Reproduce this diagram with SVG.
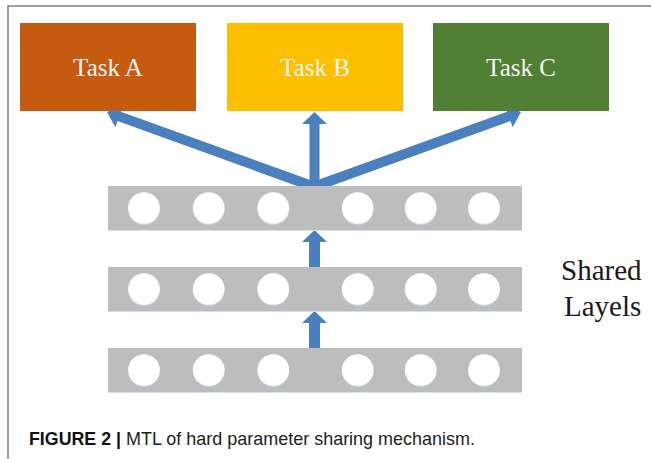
<svg xmlns="http://www.w3.org/2000/svg" width="651" height="459" viewBox="0 0 651 459">
  <defs>
    <style>
      .frame { fill: none; stroke: #808080; stroke-width: 1.5; }
      .task-label { font-family: "Liberation Serif", "Times New Roman", serif; font-size: 25px; fill: #f5f5f5; text-anchor: middle; }
      .bar { fill: #bdbdbd; }
      .bar-edge { stroke: #d3e0ee; stroke-width: 1; }
      .unit { fill: #ffffff; }
      .unit-shade { fill: #c6d6e8; }
      .arrow { fill: #4a80bd; }
      .side-label { font-family: "Liberation Serif", "Times New Roman", serif; font-size: 29px; fill: #1a1a1a; }
      .caption { font-family: "Liberation Sans", Arial, Helvetica, sans-serif; font-size: 19px; fill: #222222; }
      .caption-bold { font-weight: bold; fill: #111111; }
    </style>
    <!-- one neuron: faint bluish shade below a white disc -->
    <g id="unit">
      <circle class="unit-shade" cx="0" cy="1" r="16"/>
      <circle class="unit" cx="0" cy="0" r="15.8"/>
    </g>
    <!-- one shared layer: grey band with six units -->
    <g id="layer">
      <rect class="bar" x="108" y="0" width="414" height="44"/>
      <line class="bar-edge" x1="108" y1="44.5" x2="522" y2="44.5"/>
      <use href="#unit" x="144" y="22"/>
      <use href="#unit" x="208.7" y="22"/>
      <use href="#unit" x="273.3" y="22"/>
      <use href="#unit" x="357.7" y="22"/>
      <use href="#unit" x="420.7" y="22"/>
      <use href="#unit" x="484" y="22"/>
    </g>
    <!-- short upward block arrow between layers -->
    <polygon id="up-arrow" points="309,12 302,12 314.5,0 327,12 320,12 320,38 309,38"/>
  </defs>

  <!-- figure frame -->
  <path class="frame" d="M8,459 L8,6 L651,6"/>

  <!-- connectors -->
  <g id="connectors">
    <!-- shared top layer to Task A -->
    <polygon class="arrow" points="313.70,181.30 120.93,111.71 123.14,105.59 107,112 115.32,127.23 117.53,121.11 310.30,190.70"/>
    <!-- shared top layer to Task B -->
    <polygon class="arrow" points="309.5,190 309.5,124 302,124 314.5,112 327,124 319.5,124 319.5,190"/>
    <!-- shared top layer to Task C -->
    <polygon class="arrow" points="317.70,190.70 510.47,121.11 512.68,127.23 521,112 504.86,105.59 507.07,111.71 314.30,181.30"/>
    <!-- layer 2 to layer 1 -->
    <use class="arrow" href="#up-arrow" x="0" y="230"/>
    <!-- layer 3 to layer 2 -->
    <use class="arrow" href="#up-arrow" x="0" y="311"/>
  </g>

  <!-- shared layers -->
  <g id="layer-1">
    <use href="#layer" x="0" y="186"/>
  </g>
  <g id="layer-2">
    <use href="#layer" x="0" y="267"/>
  </g>
  <g id="layer-3">
    <use href="#layer" x="0" y="348"/>
  </g>

  <!-- task heads -->
  <g id="task-a">
    <rect x="20" y="23" width="176" height="88" fill="#c55a11"/>
    <text class="task-label" x="108" y="76">Task A</text>
  </g>
  <g id="task-b">
    <rect x="227" y="23" width="176" height="88" fill="#fcc000"/>
    <text class="task-label" x="315" y="76">Task B</text>
  </g>
  <g id="task-c">
    <rect x="433" y="23" width="176" height="88" fill="#518034"/>
    <text class="task-label" x="521" y="76">Task C</text>
  </g>

  <!-- layer annotation -->
  <g id="shared-label">
    <text class="side-label" x="561" y="280">Shared</text>
    <text class="side-label" x="564" y="316">Layels</text>
  </g>

  <!-- caption -->
  <text class="caption caption-bold" x="29" y="445" textLength="92" lengthAdjust="spacingAndGlyphs">FIGURE 2 |</text>
  <text class="caption" x="126" y="445" textLength="349" lengthAdjust="spacingAndGlyphs">MTL of hard parameter sharing mechanism.</text>
</svg>
